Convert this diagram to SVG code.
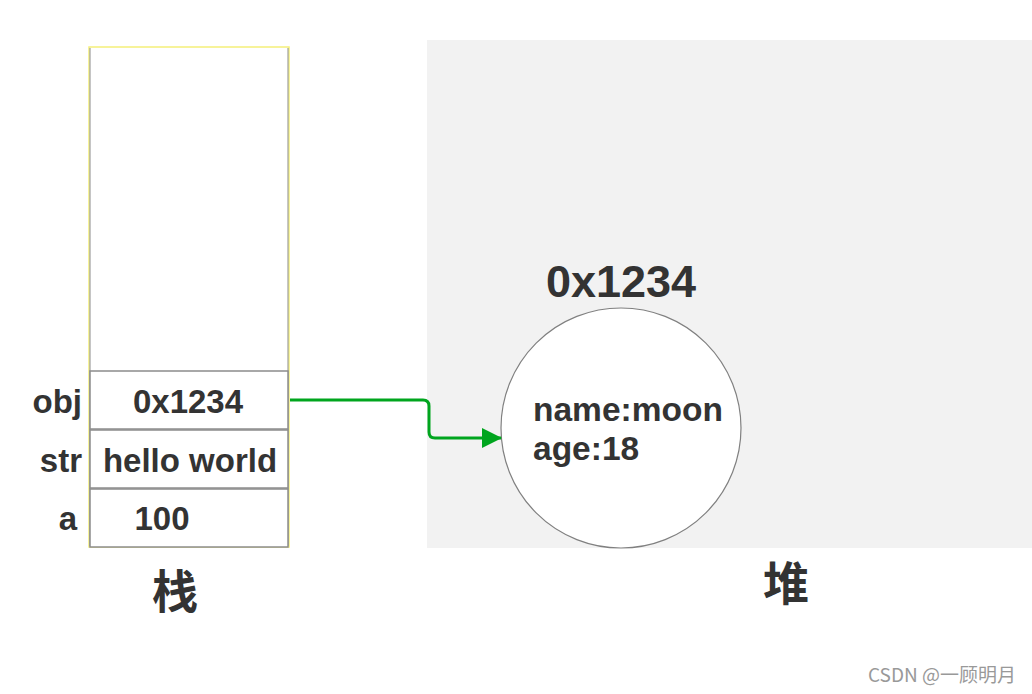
<svg xmlns="http://www.w3.org/2000/svg" width="1032" height="694" viewBox="0 0 1032 694">
<style>
.t{font-family:"Liberation Sans",Arial,sans-serif;font-weight:bold;fill:#333333}
.cn{font-family:"Noto Sans CJK SC",sans-serif;font-weight:bold;fill:#333333}
.cell{fill:#ffffff;stroke:#8c8c8c;stroke-width:1.5}
</style>
<defs>
<marker id="ah" markerWidth="20" markerHeight="20" refX="19" refY="10" orient="auto" markerUnits="userSpaceOnUse">
<path d="M0,0 L20,10 L0,20 Z" fill="#00a51e"/>
</marker>
</defs>
<rect width="1032" height="694" fill="#ffffff"/>
<g id="heap">
<rect x="427" y="40" width="605" height="508" fill="#f2f2f2"/>
<text class="cn" x="786" y="600" font-size="46" text-anchor="middle">堆</text>
</g>
<g id="stack">
<rect x="89" y="47" width="200" height="500" fill="#ffffff" stroke="#f5f07a" stroke-width="1.5"/>
<line x1="90" y1="48" x2="90" y2="546" stroke="#8c8c8c" stroke-width="1"/>
<line x1="288" y1="48" x2="288" y2="546" stroke="#8c8c8c" stroke-width="1"/>
<text class="cn" x="175" y="608" font-size="46" text-anchor="middle">栈</text>
</g>
<g id="cell-obj">
<rect class="cell" x="90" y="371" width="198" height="58"/>
<text class="t" x="188" y="413" font-size="33" text-anchor="middle">0x1234</text>
<text class="t" x="82" y="413" font-size="33" text-anchor="end">obj</text>
</g>
<g id="cell-str">
<rect class="cell" x="90" y="430" width="198" height="58"/>
<text class="t" x="190" y="472" font-size="33" text-anchor="middle">hello world</text>
<text class="t" x="82" y="472" font-size="33" text-anchor="end">str</text>
</g>
<g id="cell-a">
<rect class="cell" x="90" y="489" width="198" height="58"/>
<text class="t" x="162" y="530" font-size="33" text-anchor="middle">100</text>
<text class="t" x="77" y="530" font-size="33" text-anchor="end">a</text>
</g>
<g id="object">
<circle cx="621" cy="428" r="120" fill="#ffffff" stroke="#808080" stroke-width="1.2"/>
<text class="t" x="621" y="297" font-size="45" text-anchor="middle">0x1234</text>
<text class="t" x="533" y="421" font-size="33.5">name:moon</text>
<text class="t" x="533" y="460" font-size="33.5">age:18</text>
</g>
<g id="connectors">
<path d="M290,400 H423 Q429,400 429,406 V432 Q429,438 435,438 H501" fill="none" stroke="#00a51e" stroke-width="3" marker-end="url(#ah)"/>
</g>
<text x="868" y="682" font-family="'Noto Sans CJK SC',sans-serif" font-size="19" fill="#999999">CSDN @一顾明月</text>
</svg>
